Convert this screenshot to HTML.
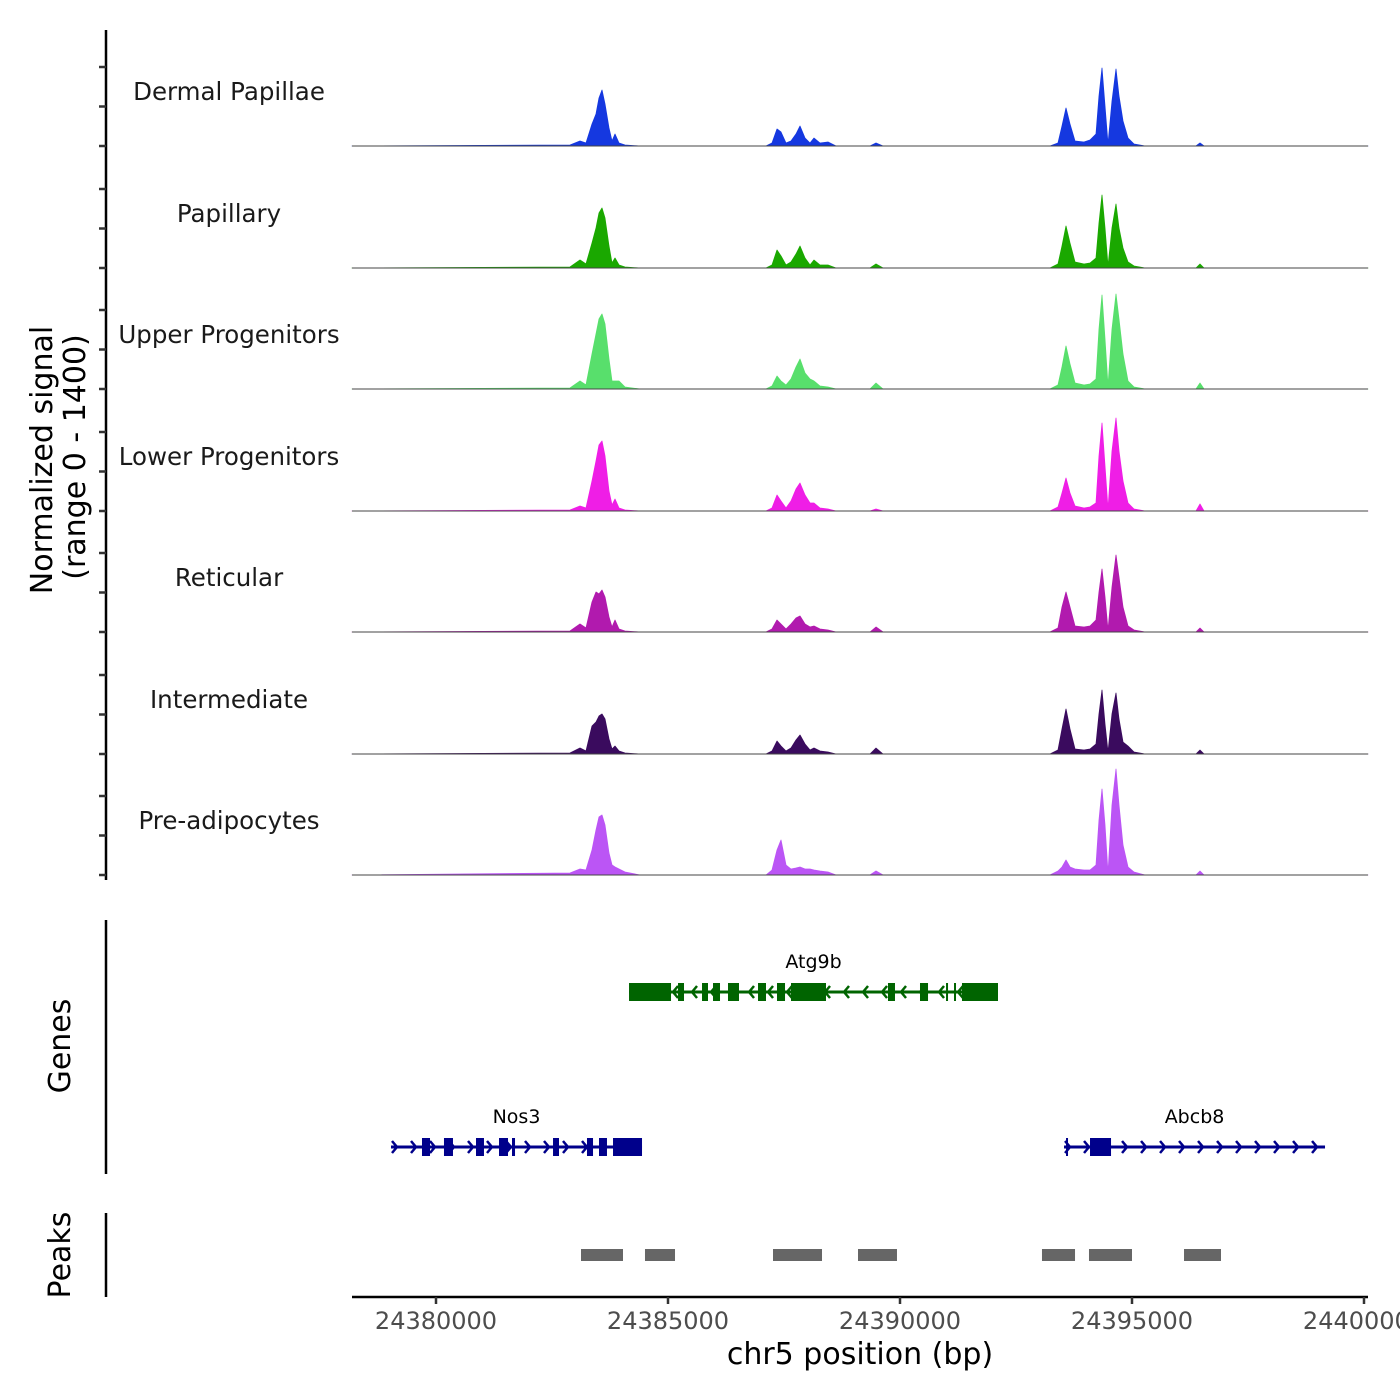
<!DOCTYPE html>
<html><head><meta charset="utf-8"><style>
html,body{margin:0;padding:0;background:#fff;}
svg{display:block;font-family:"DejaVu Sans","Liberation Sans",sans-serif;}
</style></head><body>
<svg id="chart" width="1400" height="1400" viewBox="0 0 1400 1400" xmlns="http://www.w3.org/2000/svg">
<rect width="1400" height="1400" fill="#fff"/>
<g id="tracks"></g>
<g id="genes"></g>
<g id="peaks"></g>
<g id="axes">
<line x1="106" y1="30" x2="106" y2="880" stroke="#000" stroke-width="2.5"/>
<line x1="106" y1="920" x2="106" y2="1174" stroke="#000" stroke-width="2.5"/>
<line x1="106" y1="1213" x2="106" y2="1297" stroke="#000" stroke-width="2.5"/>
<line x1="352" y1="1297" x2="1368" y2="1297" stroke="#000" stroke-width="2.5"/>
<text transform="translate(52,460) rotate(-90)" text-anchor="middle" font-size="30" fill="#000">Normalized signal</text>
<text transform="translate(85,457) rotate(-90)" text-anchor="middle" font-size="30" fill="#000">(range 0 - 1400)</text>
<text transform="translate(70,1046) rotate(-90)" text-anchor="middle" font-size="30" fill="#000">Genes</text>
<text transform="translate(70,1255) rotate(-90)" text-anchor="middle" font-size="30" fill="#000">Peaks</text>
<text x="860" y="1364" text-anchor="middle" font-size="30" fill="#000">chr5 position (bp)</text>
</g>
</svg>
<script>
const NS='http://www.w3.org/2000/svg';
// ---- data ----
const trackNames=['Dermal Papillae','Papillary','Upper Progenitors','Lower Progenitors','Reticular','Intermediate','Pre-adipocytes'];
const trackColors=['#1538e0','#1aa800','#58df6c','#ef1ee6','#b11aae','#3a0b5e','#bb55f5'];
const positions=[24378190,24382888,24383103,24383233,24383362,24383448,24383513,24383578,24383642,24383728,24383793,24383858,24383944,24384073,24384397,
24387112,24387241,24387349,24387435,24387543,24387651,24387759,24387845,24387953,24388061,24388147,24388276,24388448,24388621,
24389353,24389483,24389634,
24393233,24393405,24393491,24393578,24393664,24393772,24393966,24394095,24394224,24394289,24394354,24394418,24394483,24394569,24394655,24394720,24394806,24394914,24395043,24395280,
24396380,24396466,24396552,24400086];
const signalDP=[0,12,62,38,275,400,600,700,525,225,62,150,38,12,0, 0,38,212,175,38,62,150,250,100,38,100,38,50,0, 0,38,0, 0,38,250,475,275,62,50,75,150,625,975,500,25,562,962,625,312,100,25,0, 0,38,0,0];
const signalPap=[0,12,100,50,312,500,688,750,625,275,62,125,38,12,0, 0,38,225,150,38,75,175,275,125,38,100,38,38,0, 0,50,0, 0,50,275,525,312,75,50,62,125,562,912,500,25,500,800,500,250,75,25,0, 0,50,0,0];
const signalUpper=[0,12,100,50,438,688,875,938,812,375,100,100,100,25,0, 0,38,162,100,50,125,275,375,200,125,100,38,25,0, 0,75,0, 0,50,275,538,312,75,50,62,125,750,1175,625,38,750,1188,875,438,100,25,0, 0,75,0,0];
const signalLower=[0,12,62,38,375,625,825,875,688,250,75,150,38,12,0, 0,38,200,125,38,125,275,350,200,100,100,38,25,0, 0,25,0, 0,50,225,412,225,62,38,50,100,688,1100,562,25,750,1162,750,375,100,25,0, 0,88,0,0];
const signalRet=[0,12,100,50,375,500,475,525,438,188,62,150,38,12,0, 0,38,150,100,38,100,175,200,100,62,75,38,25,0, 0,62,0, 0,50,312,500,312,75,62,75,150,500,788,438,25,562,962,688,312,75,25,0, 0,50,0,0];
const signalInt=[0,12,75,38,350,400,475,500,438,188,62,100,38,12,0, 0,38,162,100,38,75,175,238,125,50,75,38,25,0, 0,75,0, 0,50,312,562,312,62,50,62,125,500,800,375,25,500,762,438,150,100,25,0, 0,50,0,0];
const signalPre=[0,25,75,62,312,562,725,750,625,275,125,100,75,38,0, 0,62,312,438,125,75,88,100,75,75,62,50,38,0, 0,50,0, 0,50,100,188,100,75,62,62,125,688,1075,625,25,875,1325,875,375,100,38,0, 0,50,0,0];
const signals=[signalDP,signalPap,signalUpper,signalLower,signalRet,signalInt,signalPre];
const xTicks=[24380000,24385000,24390000,24395000,24400000];
const xTickLabels=['24380000','24385000','24390000','24395000','24400000'];
const geneNames=['Atg9b','Nos3','Abcb8'];
const geneStarts=[24384160,24379030,24393535];
const geneEnds=[24392112,24384440,24399160];
const geneStrands=['-','+','+'];
const geneExons=[
 [[24384160,24385065],[24385216,24385345],[24385733,24385862],[24385970,24386121],[24386293,24386530],[24386940,24387112],[24387349,24387522],[24387651,24388405],[24389741,24389892],[24390431,24390604],[24390992,24391035],[24391164,24391207],[24391336,24392112]],
 [[24379698,24379871],[24380172,24380366],[24380862,24381034],[24381358,24381552],[24381638,24381703],[24382522,24382651],[24383254,24383384],[24383513,24383685],[24383815,24384440]],
 [[24393578,24393621],[24394095,24394548]]
];
const peakStarts=[24383125,24384504,24387263,24389095,24393060,24394073,24396121];
const peakEnds=[24384030,24385151,24388319,24389935,24393772,24395000,24396918];
// ---- scales ----
const X0=24380000, PX0=436, PXPER=232/5000;
function xs(bp){return PX0+(bp-X0)*PXPER;}
const YMAX=1400, TRACK_H=112;
const baselines=[146,268,389,511,632,754,875];
function ys(v,b){return b-v/YMAX*TRACK_H;}
function mk(tag,attrs,parent){const e=document.createElementNS(NS,tag);for(const k in attrs)e.setAttribute(k,attrs[k]);parent.appendChild(e);return e;}
const axes=document.getElementById('axes');
const tracks=document.getElementById('tracks');
signals.forEach((sig,i)=>{
  const b=baselines[i];
  const g=mk('g',{},tracks);
  
  
  let d='M'+xs(positions[0]).toFixed(1)+','+b;
  sig.forEach((v,j)=>{d+=' L'+xs(positions[j]).toFixed(1)+','+ys(v,b).toFixed(1);});
  d+=' L'+xs(positions[positions.length-1]).toFixed(1)+','+b+' Z';
  const p=mk('path',{d:d,fill:trackColors[i],stroke:trackColors[i],'stroke-width':'0.8','stroke-linejoin':'round'},g);
  
  
  const bl=mk('line',{x1:352,y1:b,x2:1368,y2:b,stroke:'#444','stroke-width':'1'},g);
  
  
  const t=mk('text',{x:229,y:b-46,'text-anchor':'middle','font-size':'24.5',fill:'#1a1a1a'},g);
  t.textContent=trackNames[i];
  
  
  [0,500,1000].forEach(v=>{
    const tk=mk('line',{x1:99,x2:106,y1:b-v/YMAX*110.6,y2:b-v/YMAX*110.6,stroke:'#333','stroke-width':'2.5'},axes);
    
    
  });
});
const genes=document.getElementById('genes');
const geneY=[992,1147,1147];
geneNames.forEach((n,i)=>{
  const col=i===0?'#006400':'#00008b';
  const y=geneY[i];
  const g=mk('g',{},genes);
  
  
  const x1=xs(geneStarts[i]),x2=xs(geneEnds[i]);
  mk('line',{x1:x1,x2:x2,y1:y,y2:y,stroke:col,'stroke-width':'3'},g);
  for(let x=x1+6;x<x2-3;x+=19){
    const dx=geneStrands[i]==='+'?-5:5;
    mk('polyline',{points:(x+dx)+','+(y-6)+' '+x+','+y+' '+(x+dx)+','+(y+6),fill:'none',stroke:col,'stroke-width':'2.5'},g);
  }
  geneExons[i].forEach(e=>{
    const r=mk('rect',{x:xs(e[0]),y:y-9,width:Math.max(2,xs(e[1])-xs(e[0])),height:18,fill:col},g);
    
    
  });
  const t=mk('text',{x:(x1+x2)/2,y:y-24,'text-anchor':'middle','font-size':'19',fill:'#000'},g);
  t.textContent=n;
  
  
});
const peaks=document.getElementById('peaks');
peakStarts.forEach((s,i)=>{
  const r=mk('rect',{x:xs(s),y:1249,width:xs(peakEnds[i])-xs(s),height:12,fill:'#666'},peaks);
  
  
});
xTicks.forEach((v,i)=>{
  const x=xs(v);
  const tk=mk('line',{x1:x,x2:x,y1:1297,y2:1304,stroke:'#333','stroke-width':'2.5'},axes);
  
  
  const t=mk('text',{x:x,y:1329,'text-anchor':'middle','font-size':'24',fill:'#4d4d4d'},axes);
  t.textContent=xTickLabels[i];
  
  
});
</script>
</body></html>
